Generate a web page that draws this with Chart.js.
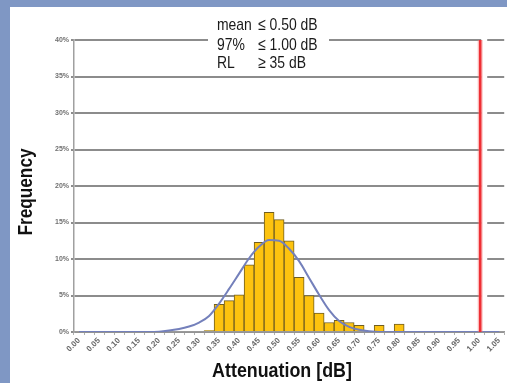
<!DOCTYPE html>
<html>
<head>
<meta charset="utf-8">
<script src="https://cdn.jsdelivr.net/npm/chart.js@4/dist/chart.umd.min.js"></script>
<style>
  html, body { margin: 0; padding: 0; }
  body { width: 507px; height: 383px; background: #7f97c4; overflow: hidden; position: relative; }
  #panel { position: absolute; left: 10px; top: 7px; width: 497px; height: 376px; background: #ffffff; }
  #c { display: block; }
</style>
</head>
<body>
<div id="panel"><canvas id="c" width="497" height="376"></canvas></div>
<script>
// ---- data ----
const categories = ['0.000','0.025','0.050','0.075','0.100','0.125','0.150','0.175','0.200','0.225',
  '0.250','0.275','0.300','0.325','0.350','0.375','0.400','0.425','0.450','0.475',
  '0.500','0.525','0.550','0.575','0.600','0.625','0.650','0.675','0.700','0.725',
  '0.750','0.775','0.800','0.825','0.850','0.875','0.900','0.925','0.950','0.975',
  '1.000','1.025','1.050'];
const tickLabels = ['0.00','0.05','0.10','0.15','0.20','0.25','0.30','0.35','0.40','0.45','0.50',
  '0.55','0.60','0.65','0.70','0.75','0.80','0.85','0.90','0.95','1.00','1.05'];
const frequency = [0,0,0,0,0,0,0,0,0,0,
  0,0,0,0.2,3.8,4.3,5.1,9.2,12.3,16.4,
  15.4,12.5,7.5,5.0,2.6,1.3,1.6,1.3,0.9,0,
  0.9,0,1.1,0,0,0,0,0,0,0,
  0,0,0];
const normalFit = [0,0,0,0,0,0,0,0,0.05,0.2,
  0.4,0.75,1.3,2.2,3.9,5.9,8.0,10.1,11.7,12.6,
  12.5,11.4,9.7,7.4,5.1,3.0,1.5,0.7,0.3,0.1,
  0,0,0,0,0,0,0,0,0,0,
  0,0,0];
const limitValue = '1.000';
const yTicks = [0,5,10,15,20,25,30,35,40];
const statLines = [['mean','\u2264 0.50 dB'],['97%','\u2264 1.00 dB'],['RL','\u2265 35 dB']];
const xTitle = 'Attenuation [dB]';
const yTitle = 'Frequency';

const FONT = '"Liberation Sans", Arial, sans-serif';

function narrowText(ctx, text, x, y, sx, align) {
  ctx.save();
  ctx.translate(x, y);
  ctx.scale(sx, 1);
  ctx.textAlign = align || 'left';
  ctx.fillText(text, 0, 0);
  ctx.restore();
}

const overlayPlugin = {
  id: 'overlay',
  afterDatasetsDraw(chart) {
    const ctx = chart.ctx;
    const xs = chart.scales.x, ys = chart.scales.y;
    const x = xs.getPixelForValue(categories.indexOf(limitValue)) + 1;
    const yTop = ys.getPixelForValue(yTicks[yTicks.length - 1]);
    const yBot = ys.getPixelForValue(0);
    ctx.save();
    ctx.fillStyle = '#ffffff';
    ctx.fillRect(x + 1, yTop - 3, 6, yBot - yTop + 1);
    ctx.strokeStyle = 'rgba(245,120,120,0.45)';
    ctx.lineWidth = 5;
    ctx.beginPath(); ctx.moveTo(x, yTop); ctx.lineTo(x, yBot); ctx.stroke();
    ctx.strokeStyle = '#ee2f35';
    ctx.lineWidth = 2.5;
    ctx.beginPath(); ctx.moveTo(x, yTop); ctx.lineTo(x, yBot); ctx.stroke();
    ctx.restore();
  },
  afterDraw(chart) {
    const ctx = chart.ctx;
    const a = chart.chartArea;
    const left = a.left + 143;
    ctx.save();
    ctx.fillStyle = '#ffffff';
    ctx.fillRect(left - 9, a.top - 6, 121, 13);
    ctx.fillStyle = '#1a1a1a';
    ctx.font = '17px ' + FONT;
    ctx.textBaseline = 'alphabetic';
    const baselines = [-10, 10, 28];
    statLines.forEach((ln, i) => {
      narrowText(ctx, ln[0], left, a.top + baselines[i], 0.82);
      narrowText(ctx, ln[1], left + 41, a.top + baselines[i], 0.82);
    });
    // axis titles
    ctx.fillStyle = '#111111';
    ctx.font = 'bold 21px ' + FONT;
    ctx.textBaseline = 'alphabetic';
    narrowText(ctx, xTitle, a.left + 208, a.bottom + 45, 0.85, 'center');
    ctx.save();
    ctx.translate(22, a.top + 152);
    ctx.rotate(-Math.PI / 2);
    ctx.textBaseline = 'alphabetic';
    narrowText(ctx, yTitle, 0, 0, 0.82, 'center');
    ctx.restore();
    ctx.restore();
  }
};

new Chart(document.getElementById('c'), {
  data: {
    labels: categories,
    datasets: [
      {
        type: 'line',
        data: normalFit,
        borderColor: '#7480bb',
        borderWidth: 2,
        pointRadius: 0,
        cubicInterpolationMode: 'monotone',
        order: 1
      },
      {
        type: 'bar',
        data: frequency,
        backgroundColor: '#fdc30f',
        borderColor: '#6f5d22',
        borderWidth: 1,
        barPercentage: 1,
        categoryPercentage: 1,
        order: 2
      }
    ]
  },
  options: {
    responsive: false,
    animation: false,
    devicePixelRatio: 1,
    layout: { padding: { top: 33, right: 0, left: 0, bottom: 0 } },
    plugins: { legend: { display: false }, tooltip: { enabled: false } },
    scales: {
      x: {
        type: 'category',
        offset: true,
        afterFit(s) { s.height = 51; },
        grid: { display: true, drawOnChartArea: false, drawTicks: true, tickLength: 3, color: '#b0b0b0', lineWidth: 1 },
        border: { display: true, color: '#9a9a9a', width: 1.5 },
        ticks: {
          autoSkip: false,
          maxRotation: 45,
          minRotation: 45,
          padding: 1,
          color: '#666666',
          font: { size: 8, weight: 'bold', family: FONT },
          callback: (v, i) => (i % 2 === 0 ? tickLabels[i / 2] : '')
        },
        title: { display: false }
      },
      y: {
        min: 0,
        max: 40,
        afterFit(s) { s.width = 64; },
        afterBuildTicks(s) { s.ticks = yTicks.map(v => ({ value: v })); },
        grid: { color: '#8c8c8c', lineWidth: 2, drawTicks: true, tickLength: 3 },
        border: { display: true, color: '#a0a0a0', width: 1.5 },
        ticks: {
          padding: 2,
          color: '#707070',
          font: { size: 7, weight: 'bold', family: FONT },
          callback: v => v + '%'
        },
        title: { display: false }
      }
    }
  },
  plugins: [overlayPlugin]
});
</script>
</body>
</html>
